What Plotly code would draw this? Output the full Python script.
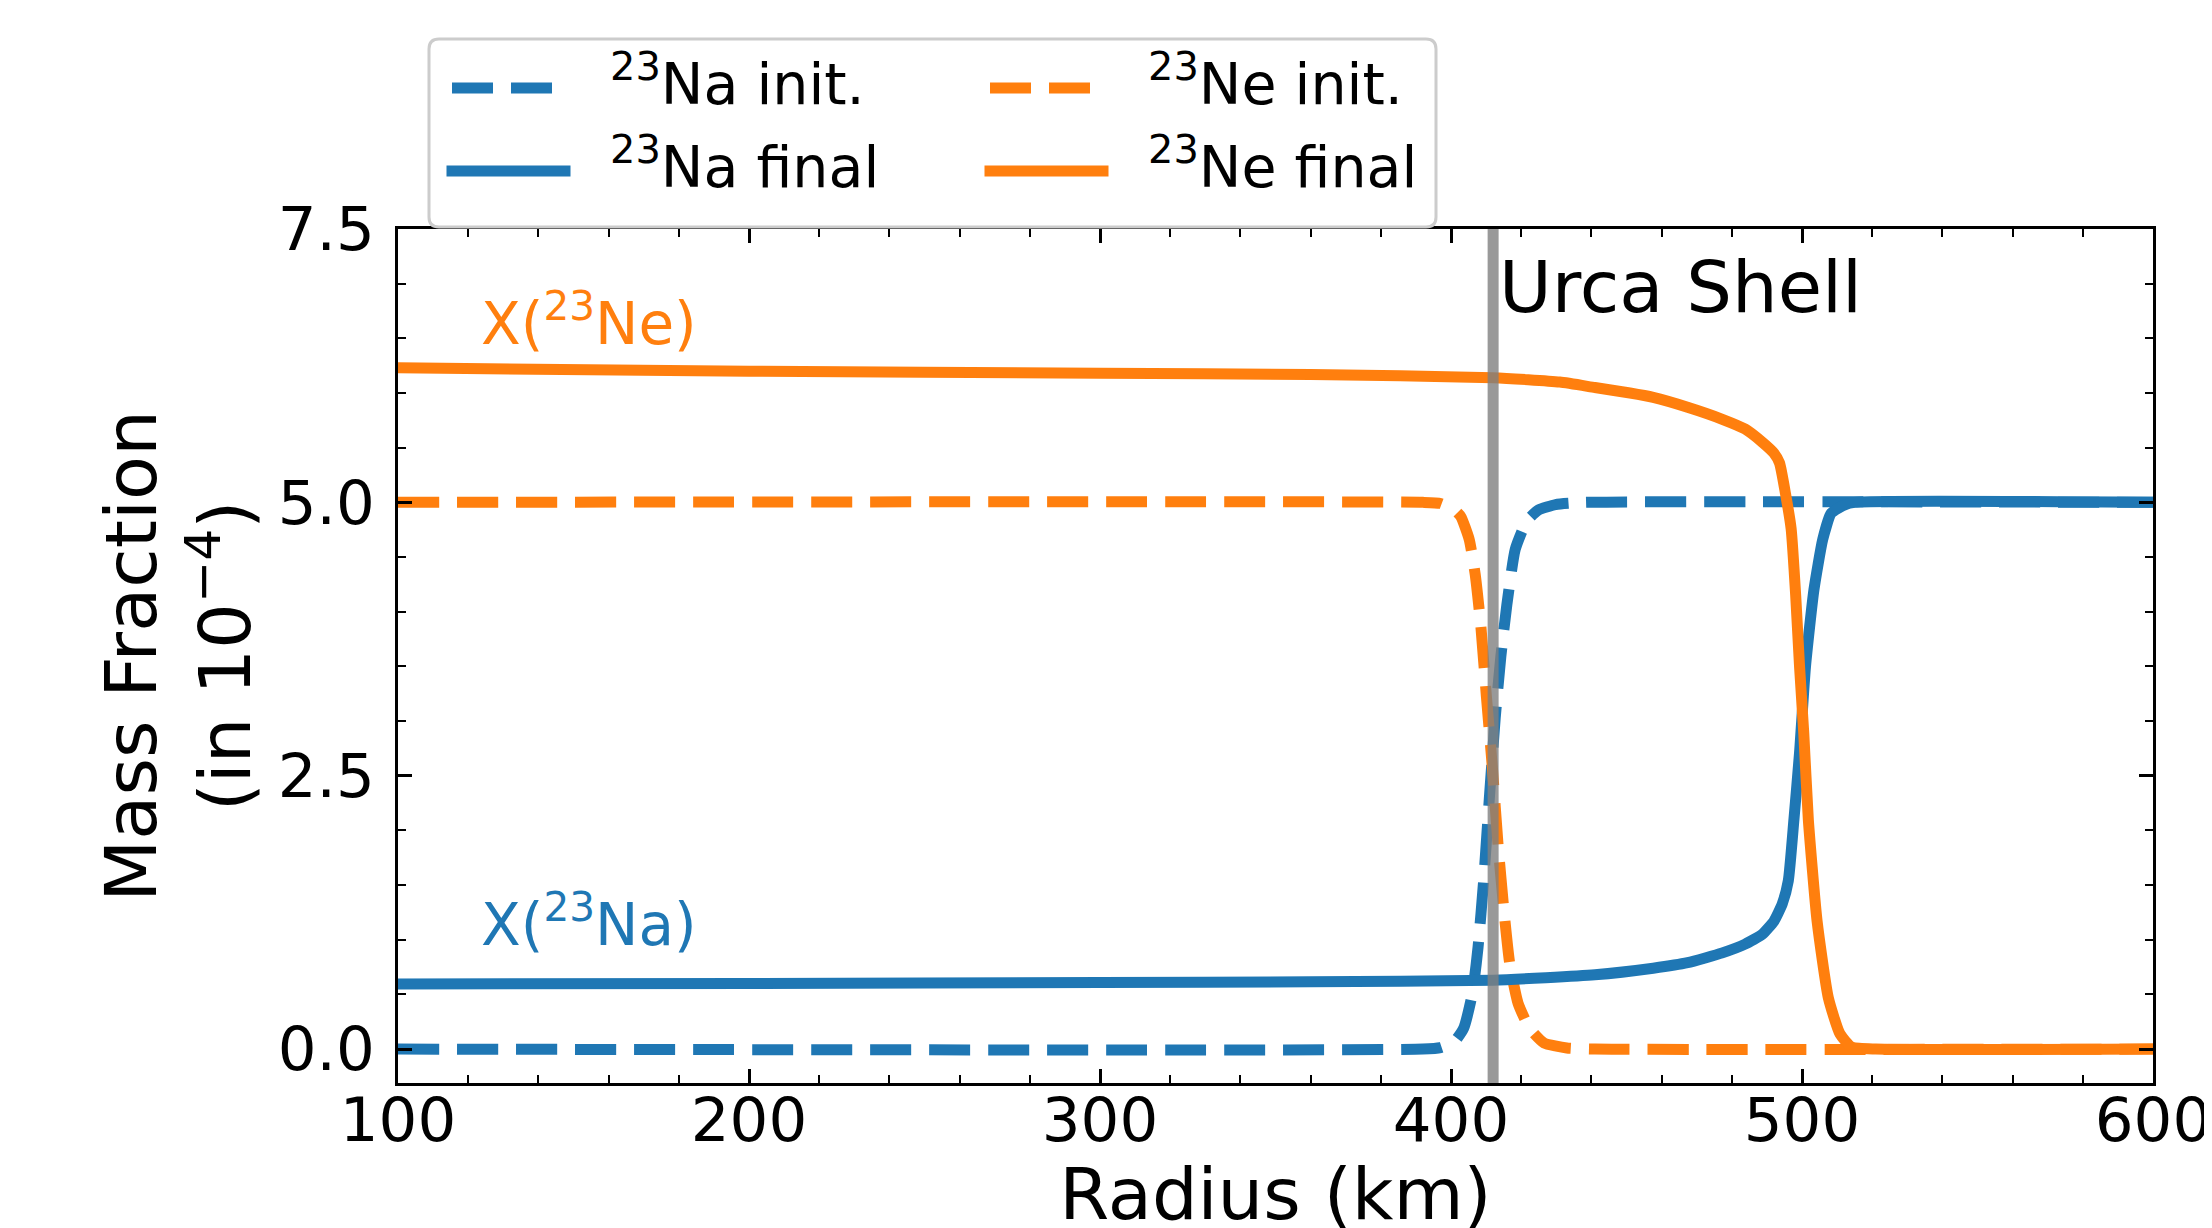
import plotly.graph_objects as go

# ---------------- data ----------------
NA_INIT_R = [100, 392, 397, 401, 403.6, 406.1, 407.7, 409.3, 411.0, 412.6, 414.2, 415.9, 418.3, 421.6, 424.9, 429.8, 438, 600]
NA_INIT_X = [0.0, 0.0, 0.014, 0.07, 0.19, 0.51, 0.93, 1.54, 2.33, 3.03, 3.59, 4.06, 4.57, 4.83, 4.93, 4.98, 5.0, 5.0]

NE_INIT_R = [100, 392, 397, 401, 402.8, 405.2, 406.9, 408.5, 410.1, 411.8, 413.4, 415.1, 416.7, 419.1, 422.4, 426.5, 433, 441, 600]
NE_INIT_X = [5.0, 5.0, 4.99, 4.93, 4.87, 4.66, 4.34, 3.87, 3.22, 2.57, 1.87, 1.26, 0.79, 0.42, 0.19, 0.056, 0.01, 0.0, 0.0]

NA_FINAL_R = [100, 200, 300, 360, 412, 441, 457.6, 467.4, 477.3, 483.8, 488.7, 492.0, 494.4, 496.1, 497.7, 499.3, 501.0, 503.4, 505.9, 508.3, 511.6, 515, 600]
NA_FINAL_X = [0.595, 0.60, 0.61, 0.615, 0.63, 0.68, 0.74, 0.79, 0.88, 0.96, 1.05, 1.17, 1.33, 1.54, 2.10, 2.71, 3.50, 4.20, 4.66, 4.90, 4.97, 5.0, 5.0]

NE_FINAL_R = [100, 200, 300, 360, 412, 431, 441, 451, 457.6, 467.4, 477.3, 483.8, 488.7, 492.0, 493.6, 495.3, 496.9, 498.2, 499.3, 500.5, 501.8, 504.3, 507.5, 510.8, 514.1, 521, 600]
NE_FINAL_X = [6.23, 6.20, 6.18, 6.17, 6.14, 6.10, 6.05, 6.00, 5.96, 5.87, 5.76, 5.67, 5.55, 5.45, 5.36, 5.08, 4.76, 4.15, 3.50, 2.89, 2.10, 1.17, 0.47, 0.14, 0.02, 0.0, 0.0]

URCA_R = 412

X_RANGE = [100, 600]
Y_RANGE = [-0.31, 7.5]

LEGEND_LABELS = ["<sup>23</sup>Na init.", "<sup>23</sup>Ne init.",
                 "<sup>23</sup>Na final", "<sup>23</sup>Ne final"]

# ---------------- style ----------------
BLUE = "#1f77b4"
ORANGE = "#ff7f0e"
FONT = "DejaVu Sans"
LW = 11
DASH = "41px,18px"

W, H = 2212, 1228
PL, PR, PT, PB = 390, 2145, 221, 1075


def px_x(px):
    return (px - PL) / (PR - PL)


def px_y(py):
    return (PB - py) / (PB - PT)


fig = go.Figure()
series = [
    (NA_INIT_R, NA_INIT_X, BLUE, DASH, LEGEND_LABELS[0]),
    (NE_INIT_R, NE_INIT_X, ORANGE, DASH, LEGEND_LABELS[1]),
    (NA_FINAL_R, NA_FINAL_X, BLUE, "solid", LEGEND_LABELS[2]),
    (NE_FINAL_R, NE_FINAL_X, ORANGE, "solid", LEGEND_LABELS[3]),
]
for r, xv, col, dash, name in series:
    fig.add_trace(go.Scatter(x=r, y=xv, mode="lines", name=name, showlegend=False,
                             line=dict(color=col, width=LW, dash=dash, shape="spline", smoothing=0.5)))

fig.add_vline(x=URCA_R, line=dict(color="rgba(128,128,128,0.8)", width=11), layer="above")

axis_common = dict(
    ticks="inside", ticklen=14, tickwidth=2.5, tickcolor="black",
    showline=True, linewidth=3, linecolor="black", mirror="allticks",
    showgrid=False, zeroline=False,
    tickfont=dict(family=FONT, size=61, color="black"),
)
fig.update_xaxes(range=X_RANGE, tick0=100, dtick=100,
                 minor=dict(ticks="inside", dtick=20, ticklen=8, tickwidth=2, tickcolor="black", showgrid=False),
                 title=dict(text="Radius (km)", font=dict(family=FONT, size=72, color="black"), standoff=30),
                 ticklabelstandoff=-18, **axis_common)
fig.update_yaxes(range=Y_RANGE, tick0=0, dtick=2.5, tickformat=".1f",
                 minor=dict(ticks="inside", dtick=0.5, ticklen=8, tickwidth=2, tickcolor="black", showgrid=False),
                 title=dict(text="Mass Fraction<br>(in 10<sup>−4</sup>)", font=dict(family=FONT, size=72, color="black"), standoff=4),
                 ticklabelstandoff=8, **axis_common)

# annotations inside plot
fig.add_annotation(x=URCA_R + 1, y=6.97, text="Urca Shell", showarrow=False, xanchor="left", yanchor="middle",
                   font=dict(family=FONT, size=72, color="black"))
fig.add_annotation(x=123, y=6.67, text="X(<sup>23</sup>Ne)", showarrow=False, xanchor="left", yanchor="middle",
                   font=dict(family=FONT, size=58, color=ORANGE))
fig.add_annotation(x=123, y=1.17, text="X(<sup>23</sup>Na)", showarrow=False, xanchor="left", yanchor="middle",
                   font=dict(family=FONT, size=58, color=BLUE))

# ---------------- manual legend (matplotlib-like box) ----------------
bx0, bx1, by0, by1 = 421, 1428, 31, 219
rad = 10
x0, x1 = px_x(bx0), px_x(bx1)
yt, yb = px_y(by0), px_y(by1)
rx, ry = rad / (PR - PL), rad / (PB - PT)
path = (f"M{x0+rx},{yt} L{x1-rx},{yt} Q{x1},{yt} {x1},{yt-ry} L{x1},{yb+ry} Q{x1},{yb} {x1-rx},{yb} "
        f"L{x0+rx},{yb} Q{x0},{yb} {x0},{yb+ry} L{x0},{yt-ry} Q{x0},{yt} {x0+rx},{yt} Z")
fig.add_shape(type="path", path=path, xref="paper", yref="paper", layer="above",
              fillcolor="rgba(255,255,255,0.9)", line=dict(color="#cccccc", width=3))

rows_py = [80, 163]
cols = [(444, 557, 600), (982, 1095, 1138)]
colors = [BLUE, ORANGE, BLUE, ORANGE]
dashes = [DASH, DASH, "solid", "solid"]
for i, lab in enumerate(LEGEND_LABELS):
    row, col = i // 2, i % 2
    hx0, hx1, tx = cols[col]
    if dashes[i] == "solid":
        hx0, hx1 = hx0 - 5.5, hx1 + 5.5
    yy = px_y(rows_py[row])
    fig.add_shape(type="line", xref="paper", yref="paper", layer="above",
                  x0=px_x(hx0), x1=px_x(hx1), y0=yy, y1=yy,
                  line=dict(color=colors[i], width=LW, dash=dashes[i]))
    fig.add_annotation(xref="paper", yref="paper", x=px_x(tx), y=px_y(rows_py[row] - 8), text=lab,
                       showarrow=False, xanchor="left", yanchor="middle",
                       font=dict(family=FONT, size=57, color="black"))

fig.update_layout(width=W, height=H, margin=dict(l=PL, r=W - PR, t=PT, b=H - PB, autoexpand=False),
                  paper_bgcolor="white", plot_bgcolor="white",
                  font=dict(family=FONT, color="black"))

fig.write_html("out.html")
